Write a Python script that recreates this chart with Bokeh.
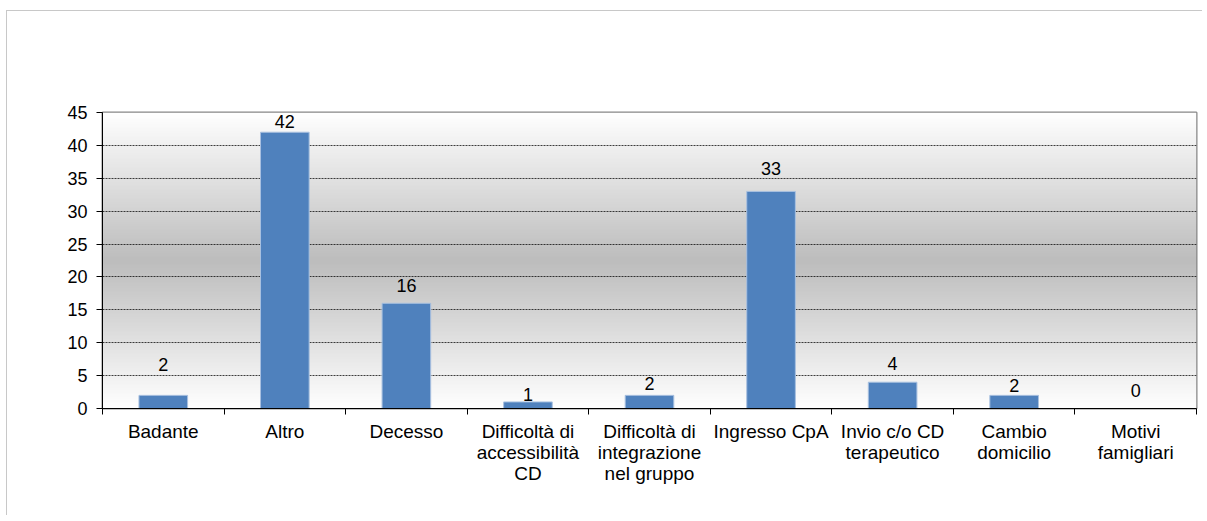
import numpy as np
from bokeh.plotting import figure
from bokeh.models import Range1d, FixedTicker, ColumnDataSource
from bokeh.core.properties import value
from bokeh.embed import file_html
from bokeh.resources import INLINE

categories = ["Badante", "Altro", "Decesso", "Difficoltà di\naccessibilità\nCD",
              "Difficoltà di\nintegrazione\nnel gruppo", "Ingresso CpA",
              "Invio c/o CD\nterapeutico", "Cambio\ndomicilio", "Motivi\nfamigliari"]
counts = [2, 42, 16, 1, 2, 33, 4, 2, 0]
y_ticks = [0, 5, 10, 15, 20, 25, 30, 35, 40, 45]

# style: pixel gap between bar top and its value label (as in the original)
label_gaps = [24, 4, 11, 1, 5, 16, 12, 3, 12]

FONT = "Liberation Sans"
n = len(categories)
ymax = y_ticks[-1]

p = figure(width=1196, height=505, output_backend="svg", toolbar_location=None,
           x_range=Range1d(0, n), y_range=Range1d(0, ymax),
           min_border_left=95, min_border_right=7, min_border_top=101, min_border_bottom=108)
p.styles = {"border-top": "1px solid #c8c8c8", "border-left": "1px solid #c8c8c8",
            "margin-top": "10px", "margin-left": "6px"}

# gradient background of the plot area
t = np.linspace(0, 1, 200)
g = (255 - 66 * (1 - np.abs(2 * t - 1))).astype(np.uint32)
img = (255 << 24) | (g << 16) | (g << 8) | g
img = img.reshape(-1, 1)
p.image_rgba(image=[img], x=0, y=0, dw=n, dh=ymax, level="image")

xs = [i + 0.5 for i in range(n)]
src = ColumnDataSource(dict(x=xs, top=counts, lbl=[str(c) for c in counts],
                            off=[-g_ for g_ in label_gaps]))
p.vbar(x="x", top="top", width=0.4, bottom=0, source=src,
       fill_color="#4F81BD", line_color="#a9c1e0", line_width=1)

p.text(x="x", y="top", text="lbl", y_offset="off", source=src,
       text_align="center", text_baseline="bottom",
       text_font=value(FONT), text_font_size="18px", text_color="black")

# grid
p.xgrid.visible = False
p.ygrid.ticker = FixedTicker(ticks=y_ticks[1:-1])
p.ygrid.grid_line_color = "black"
p.ygrid.grid_line_dash = "2 1"
p.ygrid.grid_line_width = 1
p.ygrid.grid_line_alpha = 0.75

# frame
p.outline_line_color = "#868686"
p.outline_line_width = 2
p.background_fill_color = "white"

# y axis
p.yaxis.ticker = FixedTicker(ticks=y_ticks)
p.yaxis.axis_line_color = "black"
p.yaxis.major_tick_line_color = "black"
p.yaxis.major_tick_out = 6
p.yaxis.major_tick_in = 0
p.yaxis.minor_tick_line_color = None
p.yaxis.major_label_text_font = FONT
p.yaxis.major_label_text_font_size = "18px"
p.yaxis.major_label_text_color = "black"
p.yaxis.major_label_standoff = 9

# x axis: labels at centres, ticks at category boundaries
p.xaxis.ticker = FixedTicker(ticks=xs, minor_ticks=list(range(n + 1)))
p.xaxis.major_label_overrides = {x: c for x, c in zip(xs, categories)}
p.xaxis.axis_line_color = "black"
p.xaxis.major_tick_line_color = None
p.xaxis.major_tick_out = 0
p.xaxis.major_tick_in = 0
p.xaxis.minor_tick_line_color = "black"
p.xaxis.minor_tick_out = 6
p.xaxis.minor_tick_in = 0
p.xaxis.major_label_text_font = FONT
p.xaxis.major_label_text_font_size = "19px"
p.xaxis.major_label_text_color = "black"
p.xaxis.major_label_standoff = 6
p.xaxis.major_label_text_line_height = 1.0

p.border_fill_color = "white"

open("out.html", "w").write(file_html(p, INLINE))
